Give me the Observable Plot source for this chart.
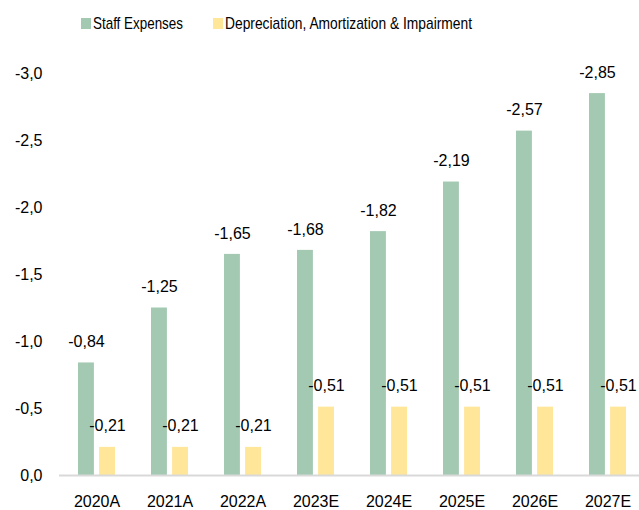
<!DOCTYPE html>
<html>
<head>
<meta charset="utf-8">
<script src="https://cdn.jsdelivr.net/npm/d3@7"></script>
<script src="https://cdn.jsdelivr.net/npm/@observablehq/plot@0.6"></script>
<style>
  html, body { margin: 0; padding: 0; background: #fff; overflow: hidden; }
  #wrap { position: relative; width: 639px; height: 510px; }
  #legend { position: absolute; left: 0; top: 0; width: 639px; height: 40px; font-family: "Liberation Sans", Arial, sans-serif; font-size: 17px; color: #000; }
  .sw { position: absolute; width: 10px; height: 11px; top: 18px; }
  .lab { position: absolute; top: 13px; white-space: nowrap; transform-origin: 0 50%; display: inline-block; line-height: 22px; }
  #chart { position: absolute; left: 0; top: 40px; }
</style>
</head>
<body>
<div id="wrap">
  <div id="legend"></div>
  <div id="chart"></div>
</div>
<script>
const years = ["2020A", "2021A", "2022A", "2023E", "2024E", "2025E", "2026E", "2027E"];
const staffExpenses = [-0.84, -1.25, -1.65, -1.68, -1.82, -2.19, -2.57, -2.85];
const depreciation = [-0.21, -0.21, -0.21, -0.51, -0.51, -0.51, -0.51, -0.51];
const yTicks = [0, -0.5, -1.0, -1.5, -2.0, -2.5, -3.0];
const seriesNames = ["Staff Expenses", "Depreciation, Amortization & Impairment"];
const seriesColors = ["#a3c9b2", "#ffe699"];

const fmt = v => v.toFixed(2).replace(".", ",");
const tickFmt = v => (Math.abs(v) < 1e-9 ? 0 : v).toFixed(1).replace(".", ",");

const staffData = years.map((year, i) => ({year, value: staffExpenses[i]}));
const depData = years.map((year, i) => ({year, value: depreciation[i]}));

const font = "Liberation Sans, Arial, sans-serif";

const chart = Plot.plot({
  width: 639,
  height: 470,
  marginLeft: 59,
  marginRight: 0,
  marginTop: 33,
  marginBottom: 35,
  style: {fontFamily: font, fontSize: "16px", color: "#000", background: "transparent"},
  x: {domain: years, range: [58.9, 644.1], padding: 0, label: null},
  y: {domain: [0, -3], label: null},
  marks: [
    Plot.axisY({ticks: yTicks, tickFormat: tickFmt, tickSize: 0, tickPadding: 17, fontSize: 16, label: null}),
    Plot.axisX({tickSize: 0, tickPadding: 20, fontSize: 16, label: null}),
    Plot.barY(staffData, {x: "year", y: "value", fill: seriesColors[0], insetLeft: 18, insetRight: 39.1}),
    Plot.barY(depData, {x: "year", y: "value", fill: seriesColors[1], insetLeft: 39.1, insetRight: 18}),
    Plot.ruleY([0], {stroke: "#d9d9d9", strokeWidth: 2}),
    Plot.text(staffData, {x: "year", y: "value", text: d => fmt(d.value), dx: -10.5, dy: -21, fontSize: 16, fill: "#000"}),
    Plot.text(depData, {x: "year", y: "value", text: d => fmt(d.value), dx: 10.5, dy: -21, fontSize: 16, fill: "#000"})
  ]
});
document.getElementById("chart").appendChild(chart);

const legend = document.getElementById("legend");
const swLefts = [81, 213];
const labLefts = [93, 225];
const labWidths = [90, 247];
seriesNames.forEach((name, i) => {
  const sw = document.createElement("div");
  sw.className = "sw";
  sw.style.left = swLefts[i] + "px";
  sw.style.background = seriesColors[i];
  legend.appendChild(sw);
  const label = document.createElement("span");
  label.className = "lab";
  label.style.left = labLefts[i] + "px";
  label.textContent = name;
  legend.appendChild(label);
  const w = label.getBoundingClientRect().width;
  if (w > 0) label.style.transform = `scaleX(${labWidths[i] / w})`;
});
</script>
</body>
</html>
